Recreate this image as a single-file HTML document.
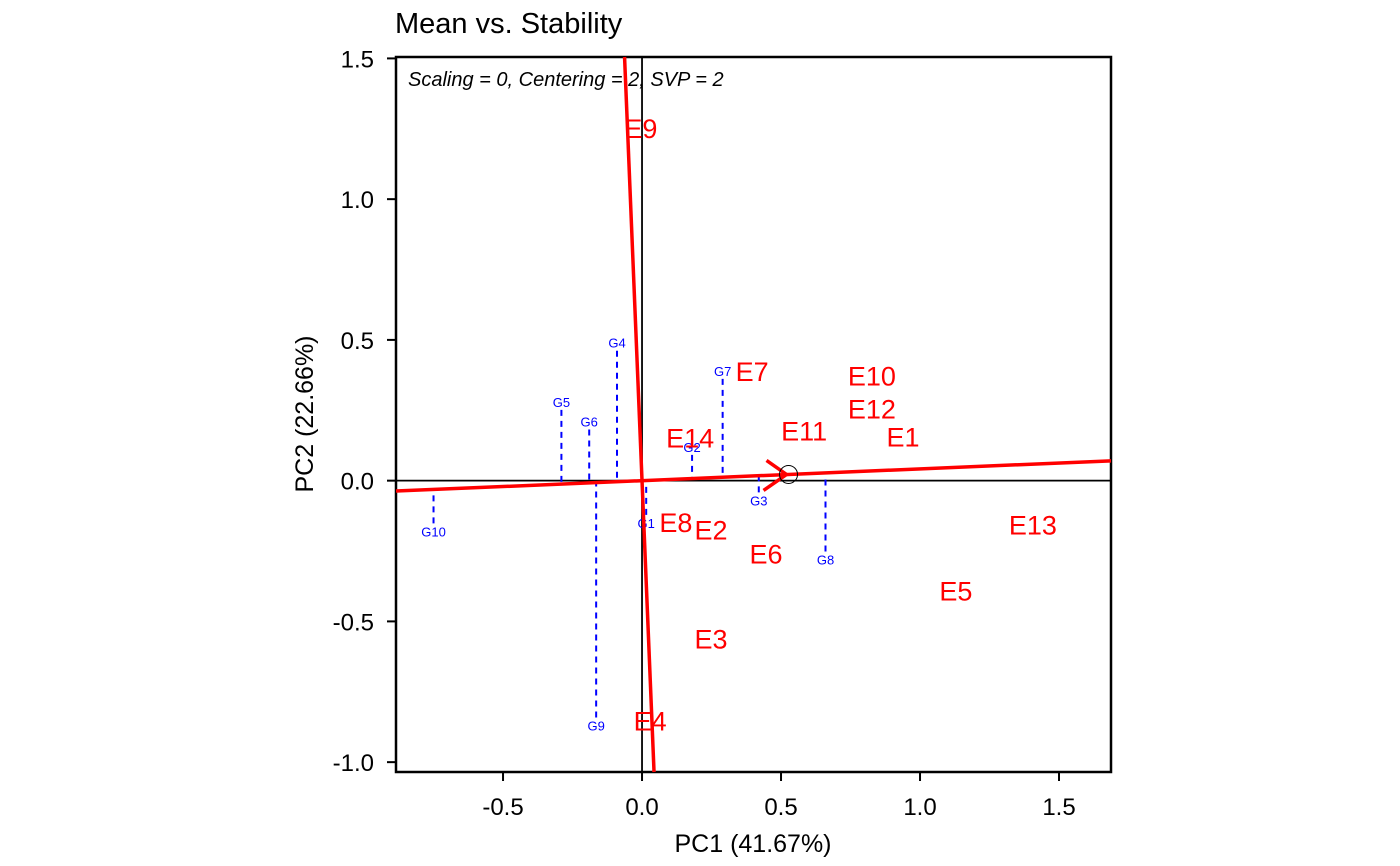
<!DOCTYPE html>
<html><head><meta charset="utf-8"><style>
body{margin:0;background:#fff;}
svg{display:block;font-family:"Liberation Sans",Arial,sans-serif;}
</style></head><body>
<svg id="c" width="1400" height="866">
<text x="395" y="33" font-size="29">Mean vs. Stability</text>
<rect x="396" y="57" width="715" height="715" fill="none" stroke="#000" stroke-width="2.5"/>
<text x="408" y="86" font-size="20" font-style="italic">Scaling = 0, Centering = 2, SVP = 2</text>
<text x="753" y="852" font-size="25" text-anchor="middle">PC1 (41.67%)</text>
<text transform="translate(313,414) rotate(-90)" font-size="25" text-anchor="middle">PC2 (22.66%)</text>
<g id="g"></g>
</svg>
<script>
const xTicks=[-0.5,0,0.5,1.0,1.5];
const xTickLabels=["-0.5","0.0","0.5","1.0","1.5"];
const yTicks=[-1.0,-0.5,0,0.5,1.0,1.5];
const yTickLabels=["-1.0","-0.5","0.0","0.5","1.0","1.5"];
const genNames=["G1","G2","G3","G4","G5","G6","G7","G8","G9","G10"];
const genX=[0.015,0.18,0.42,-0.09,-0.29,-0.19,0.29,0.66,-0.165,-0.75];
const genY=[-0.15,0.12,-0.07,0.49,0.28,0.21,0.39,-0.28,-0.87,-0.18];
const envNames=["E1","E2","E3","E4","E5","E6","E7","E8","E9","E10","E11","E12","E13","E14"];
const envX=[0.939,0.248,0.248,0.029,1.129,0.446,0.396,0.122,-0.004,0.827,0.583,0.827,1.406,0.173];
const envY=[0.156,-0.174,-0.561,-0.852,-0.39,-0.259,0.39,-0.146,1.253,0.373,0.178,0.256,-0.156,0.153];
const meanPt=[0.527,0.022];
const xmin=-0.885,xmax=1.687,ymin=-1.035,ymax=1.505;
const X=v=>396+(v-xmin)/(xmax-xmin)*715;
const Y=v=>772-(v-ymin)/(ymax-ymin)*715;
const g=document.getElementById('g');const NS="http://www.w3.org/2000/svg";
function mk(t,a,txt){const e=document.createElementNS(NS,t);for(const k in a)e.setAttribute(k,a[k]);if(txt!==undefined)e.textContent=txt;g.appendChild(e);return e;}
xTicks.forEach((t,i)=>{let e=mk('line',{x1:X(t),x2:X(t),y1:772,y2:781,stroke:'#000','stroke-width':2});

e=mk('text',{x:X(t),y:815,'font-size':24,'text-anchor':'middle'},xTickLabels[i]);
});
yTicks.forEach((t,i)=>{let e=mk('line',{x1:387,x2:396,y1:Y(t),y2:Y(t),stroke:'#000','stroke-width':2});

e=mk('text',{x:374,y:Y(t)+9,'font-size':24,'text-anchor':'end'},yTickLabels[i]);
});
let e=mk('line',{x1:396,x2:1111,y1:Y(0),y2:Y(0),stroke:'#000','stroke-width':1.8});

e=mk('line',{x1:X(0),x2:X(0),y1:57,y2:772,stroke:'#000','stroke-width':1.8});

const s=meanPt[1]/meanPt[0];
genX.forEach((gx,i)=>{const gy=genY[i];
const py=gx*s;
let l=mk('line',{x1:X(gx),y1:Y(gy)+(gy>py?8:-8),x2:X(gx),y2:Y(py),stroke:'#00f','stroke-width':2,'stroke-dasharray':'6,5'});

let tx=mk('text',{x:X(gx),y:Y(gy)+5,'font-size':13,'text-anchor':'middle',fill:'#00f'},genNames[i]);
});
e=mk('line',{x1:396,y1:Y(xmin*s),x2:1111,y2:Y(xmax*s),stroke:'#f00','stroke-width':3.5});

const ps=-1/s;
e=mk('line',{x1:X(ymax/ps),y1:57,x2:X(ymin/ps),y2:772,stroke:'#f00','stroke-width':3.5});

const ax=X(meanPt[0]),ay=Y(meanPt[1]);
e=mk('path',{d:`M${ax-22},${ay-14} L${ax-2},${ay} L${ax-25},${ay+16}`,fill:'none',stroke:'#f00','stroke-width':3.5});

e=mk('circle',{cx:ax,cy:ay,r:9,fill:'none',stroke:'#000','stroke-width':1});

envX.forEach((ex,i)=>{let tx=mk('text',{x:X(ex),y:Y(envY[i])+10,'font-size':27,'text-anchor':'middle',fill:'#f00'},envNames[i]);
});
</script>
</body></html>
